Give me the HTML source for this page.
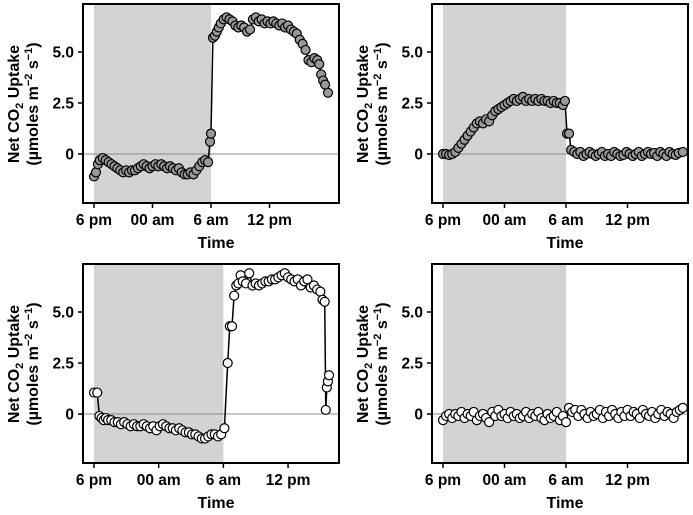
<!DOCTYPE html>
<html><head><meta charset="utf-8"><style>
body{margin:0;background:#fff}
svg text{font-family:"Liberation Sans",Arial,sans-serif;font-weight:bold}
</style></head><body>
<svg id="chart" width="693" height="510" xmlns="http://www.w3.org/2000/svg"></svg>
<script>
// data: hours since 6 pm, net CO2 uptake
const tlHours=[0,0.2,0.4,0.6,0.9,1.2,1.5,1.8,2.1,2.4,2.7,3.0,3.3,3.6,3.9,4.2,4.5,4.8,5.1,5.4,5.7,6.0,6.3,6.6,6.9,7.2,7.5,7.8,8.1,8.4,8.7,9.0,9.3,9.6,9.9,10.2,10.5,10.8,11.1,11.4,11.7,11.9,12.0,12.2,12.4,12.6,12.8,13.0,13.3,13.6,13.9,14.2,14.5,14.8,15.1,15.4,15.7,16.0,16.3,16.6,16.9,17.2,17.5,17.8,18.1,18.4,18.7,19.0,19.3,19.6,19.9,20.2,20.5,20.8,21.1,21.4,21.7,22.0,22.3,22.6,22.9,23.1,23.3,23.5,23.7,24.0];
const tlValues=[-1.1,-0.9,-0.5,-0.3,-0.2,-0.3,-0.4,-0.5,-0.6,-0.7,-0.8,-0.9,-0.8,-0.9,-0.8,-0.8,-0.7,-0.6,-0.5,-0.6,-0.7,-0.6,-0.5,-0.6,-0.5,-0.6,-0.7,-0.6,-0.7,-0.8,-0.7,-0.9,-1.0,-1.0,-0.9,-1.0,-0.8,-0.6,-0.4,-0.3,-0.4,0.6,1.0,5.7,5.8,6.0,6.2,6.4,6.6,6.7,6.6,6.5,6.3,6.2,6.3,6.2,6.0,6.1,6.6,6.7,6.5,6.6,6.4,6.5,6.4,6.5,6.4,6.3,6.4,6.2,6.3,6.1,6.0,5.9,5.6,5.4,5.1,4.6,4.5,4.7,4.6,4.4,3.9,3.6,3.4,3.0];
const trHours=[0,0.3,0.6,0.9,1.2,1.5,1.8,2.1,2.4,2.7,3.0,3.3,3.6,3.9,4.2,4.5,4.8,5.1,5.4,5.7,6.0,6.3,6.6,6.9,7.2,7.5,7.8,8.1,8.4,8.7,9.0,9.3,9.6,9.9,10.2,10.5,10.8,11.1,11.4,11.7,11.9,12.1,12.3,12.5,12.8,13.1,13.4,13.7,14.0,14.3,14.6,14.9,15.2,15.5,15.8,16.1,16.4,16.7,17.0,17.3,17.6,17.9,18.2,18.5,18.8,19.1,19.4,19.7,20.0,20.3,20.6,20.9,21.2,21.5,21.8,22.1,22.4,22.7,23.0,23.4];
const trValues=[0,0,-0.05,0,0.1,0.3,0.5,0.7,0.9,1.1,1.3,1.5,1.6,1.5,1.7,1.6,1.9,2.1,2.2,2.3,2.4,2.5,2.6,2.7,2.6,2.7,2.8,2.6,2.7,2.6,2.7,2.6,2.7,2.6,2.6,2.5,2.6,2.5,2.5,2.4,2.6,1.0,1.0,0.2,0.1,0,0.1,-0.1,0,0.1,0,-0.1,0,0.1,-0.1,0,-0.1,0.1,0,-0.1,-0.05,0.1,0,-0.1,0,0.1,-0.1,0,0.1,0,0.05,-0.1,0.1,0,-0.1,0.1,0,-0.05,0.05,0.1];
const blHours=[0,0.3,0.5,0.7,0.9,1.1,1.3,1.6,1.9,2.2,2.5,2.8,3.1,3.4,3.7,4.0,4.3,4.6,4.9,5.2,5.5,5.8,6.1,6.4,6.7,7.0,7.3,7.6,7.9,8.2,8.5,8.8,9.1,9.4,9.7,10.0,10.3,10.6,10.9,11.2,11.5,11.8,12.1,12.4,12.6,12.8,13.0,13.2,13.4,13.6,13.8,14.1,14.4,14.7,15.0,15.3,15.6,15.9,16.2,16.5,16.8,17.1,17.4,17.7,18.0,18.3,18.6,18.9,19.2,19.5,19.8,20.1,20.4,20.7,21.0,21.2,21.4,21.5,21.6,21.7,21.8];
const blValues=[1.05,1.05,-0.1,-0.2,-0.3,-0.2,-0.3,-0.3,-0.4,-0.4,-0.5,-0.4,-0.5,-0.6,-0.5,-0.6,-0.6,-0.5,-0.6,-0.7,-0.6,-0.8,-0.6,-0.5,-0.6,-0.7,-0.7,-0.8,-0.7,-0.8,-0.9,-0.9,-1.0,-1.0,-1.1,-1.2,-1.2,-1.1,-1.0,-1.0,-1.1,-1.0,-0.7,2.5,4.3,4.3,5.8,6.3,6.4,6.8,6.5,6.4,6.9,6.3,6.4,6.3,6.4,6.5,6.5,6.6,6.6,6.7,6.8,6.9,6.7,6.6,6.5,6.6,6.3,6.5,6.6,6.2,6.3,6.1,6.0,5.6,5.5,0.2,1.3,1.6,1.9];
const brHours=[0,0.3,0.6,0.9,1.2,1.5,1.8,2.1,2.4,2.7,3.0,3.3,3.6,3.9,4.2,4.5,4.8,5.1,5.4,5.7,6.0,6.3,6.6,6.9,7.2,7.5,7.8,8.1,8.4,8.7,9.0,9.3,9.6,9.9,10.2,10.5,10.8,11.1,11.4,11.7,12.0,12.3,12.6,12.9,13.2,13.5,13.8,14.1,14.4,14.7,15.0,15.3,15.6,15.9,16.2,16.5,16.8,17.1,17.4,17.7,18.0,18.3,18.6,18.9,19.2,19.5,19.8,20.1,20.4,20.7,21.0,21.3,21.6,21.9,22.2,22.5,22.8,23.1,23.4];
const brValues=[-0.3,-0.1,0,-0.2,0,-0.1,0.1,-0.2,0,-0.1,0.1,-0.3,-0.1,0,-0.2,-0.4,0.1,-0.1,0.2,-0.1,0,-0.2,0.1,-0.1,0,-0.2,-0.1,0.1,-0.2,0,-0.1,0.1,-0.2,-0.3,0,-0.2,-0.1,0.1,-0.3,-0.1,-0.4,0.3,0.1,0.2,-0.1,0.2,0,-0.2,0.1,-0.1,0,0.2,-0.2,0.1,-0.1,0.2,0,-0.2,0.1,-0.1,0.2,-0.1,0.1,0,-0.2,0.2,0,-0.1,0.1,-0.2,0,0.2,-0.1,0.1,0,-0.2,0.1,0.2,0.3];
const yTicks=[0,2.5,5.0];
const yTickLabels=["0","2.5","5.0"];
const xTickHours=[0,6,12,18];
const xTickLabels=["6 pm","00 am","6 am","12 pm"];

const NS="http://www.w3.org/2000/svg";
const svg=document.getElementById('chart');
function mk(tag,attrs,parent){const e=document.createElementNS(NS,tag);for(const k in attrs)e.setAttribute(k,attrs[k]);(parent||svg).appendChild(e);return e;}

function panel(name,bx,by,x0,pxPerHour,hours,values,fill){
  const g=mk('g',{});
  
  
  const bw=256,bh=199,y0=by+150,pu=20.4;
  const xs=h=>x0+h*pxPerHour, ys=v=>y0-v*pu;
  const shade=mk('rect',{x:xs(0),y:by,width:xs(12)-xs(0),height:bh,fill:'#d3d3d3'},g);
  
  
  const zl=mk('line',{x1:bx,x2:bx+bw,y1:ys(0),y2:ys(0),stroke:'#888','stroke-width':1},g);
  
  
  const frame=mk('rect',{x:bx,y:by,width:bw,height:bh,fill:'none',stroke:'#000','stroke-width':2},g);
  
  
  yTicks.forEach((t,i)=>{
    mk('line',{x1:bx-5,x2:bx,y1:ys(t),y2:ys(t),stroke:'#000','stroke-width':1.5},g);
    const tx=mk('text',{x:bx-9,y:ys(t)+5.5,'text-anchor':'end','font-size':15.5},g);
    tx.textContent=yTickLabels[i];
    
    
  });
  xTickHours.forEach((h,i)=>{
    mk('line',{x1:xs(h),x2:xs(h),y1:by+bh,y2:by+bh+5,stroke:'#000','stroke-width':1.5},g);
    const tx=mk('text',{x:xs(h),y:by+bh+22,'text-anchor':'middle','font-size':15.5},g);
    tx.textContent=xTickLabels[i];
    
    
  });
  const xt=mk('text',{x:bx+133,y:by+bh+45,'text-anchor':'middle','font-size':16},g);
  xt.textContent='Time';
  
  
  const cy=by+100;
  const yt=mk('text',{transform:`translate(${bx-64},${cy}) rotate(-90)`,'text-anchor':'middle','font-size':16},g);
  yt.innerHTML='Net CO<tspan font-size="11" dy="4">2</tspan><tspan dy="-4"> Uptake</tspan>';
  
  
  const yt2=mk('text',{transform:`translate(${bx-45},${cy}) rotate(-90)`,'text-anchor':'middle','font-size':16},g);
  yt2.innerHTML='(µmoles m<tspan font-size="11" dy="-6">−2</tspan><tspan dy="6"> s</tspan><tspan font-size="11" dy="-6">−1</tspan><tspan dy="6">)</tspan>';
  
  
  const pts=hours.map((h,i)=>xs(h).toFixed(1)+','+ys(values[i]).toFixed(1)).join(' ');
  const line=mk('polyline',{points:pts,fill:'none',stroke:'#000','stroke-width':1.5},g);
  
  
  hours.forEach((h,i)=>{
    const c=mk('circle',{cx:xs(h),cy:ys(values[i]),r:4.5,fill:fill,stroke:'#000','stroke-width':1.2},g);
    
    
  });
}
panel('panel-top-left',83,4,94,9.75,tlHours,tlValues,'#999');
panel('panel-top-right',432,4,443,10.25,trHours,trValues,'#999');
panel('panel-bottom-left',83,264,94,10.78,blHours,blValues,'#fff');
panel('panel-bottom-right',432,264,443,10.25,brHours,brValues,'#fff');
</script>
</body></html>
